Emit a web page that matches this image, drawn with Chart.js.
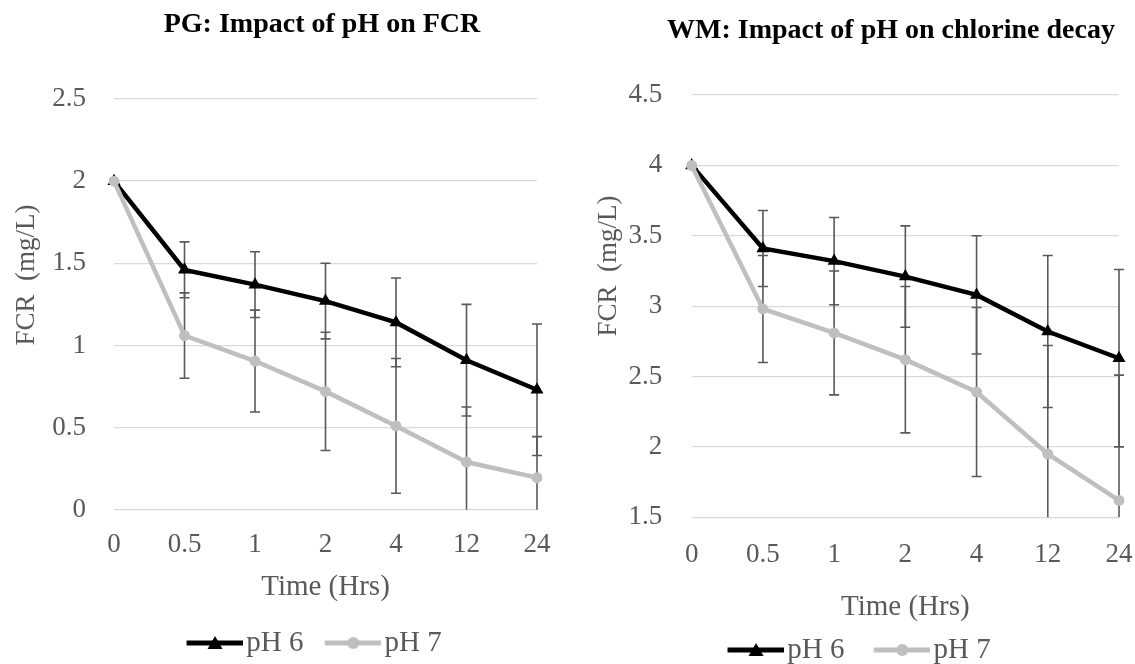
<!DOCTYPE html>
<html>
<head>
<meta charset="utf-8">
<script src="https://cdn.jsdelivr.net/npm/chart.js@4.4.1/dist/chart.umd.min.js"></script>
<style>
  body { margin: 0; background: #fff; }
  .pane { position: absolute; top: 0; }
</style>
</head>
<body>
<div class="pane" style="left:0px"><canvas id="pg" width="560" height="664"></canvas></div>
<div class="pane" style="left:575px"><canvas id="wm" width="560" height="664"></canvas></div>
<script>
const times = ["0", "0.5", "1", "2", "4", "12", "24"];

// PG panel
const pgPH6 = [2.0, 1.46, 1.37, 1.27, 1.14, 0.91, 0.73];
const pgPH6Err = [0, 0.17, 0.20, 0.23, 0.27, 0.34, 0.40];
const pgPH7 = [2.0, 1.06, 0.905, 0.72, 0.51, 0.29, 0.195];
const pgPH7Err = [0, 0.26, 0.31, 0.36, 0.41, 0.335, 0.25];

// WM panel
const wmPH6 = [4.0, 3.41, 3.32, 3.21, 3.08, 2.82, 2.63];
const wmPH6Err = [0, 0.27, 0.31, 0.36, 0.42, 0.54, 0.63];
const wmPH7 = [4.0, 2.98, 2.81, 2.62, 2.39, 1.95, 1.62];
const wmPH7Err = [0, 0.38, 0.44, 0.52, 0.60, 0.77, 0.89];

const FONT = '"Liberation Serif", "Times New Roman", serif';
const TEXT = "#595959";
Chart.defaults.font.family = FONT;

// line + marker picture for the legend; blank strip on the left keeps text close to the line
function legendSymbol(color, style, lead) {
  const c = document.createElement("canvas");
  c.width = lead + 57; c.height = 18;
  const g = c.getContext("2d");
  g.strokeStyle = color; g.lineWidth = 5;
  g.beginPath(); g.moveTo(lead, 9); g.lineTo(lead + 57, 9); g.stroke();
  g.fillStyle = color;
  const m = lead + 28.5;
  g.beginPath();
  if (style === "triangle") {
    g.moveTo(m, 2); g.lineTo(m + 7.5, 15); g.lineTo(m - 7.5, 15);
  } else {
    g.arc(m, 9, 6, 0, Math.PI * 2);
  }
  g.closePath(); g.fill();
  return c;
}

const errorBars = {
  id: "errorBars",
  beforeDatasetsDraw(chart) {
    const {ctx, chartArea} = chart;
    const y = chart.scales.y;
    ctx.save();
    ctx.beginPath();
    ctx.rect(chartArea.left - 10, chartArea.top, chartArea.right - chartArea.left + 20, chartArea.bottom - chartArea.top);
    ctx.clip();
    ctx.strokeStyle = TEXT;
    ctx.lineWidth = 1.6;
    chart.data.datasets.forEach((ds, i) => {
      const meta = chart.getDatasetMeta(i);
      ds.errors.forEach((e, j) => {
        if (!e) return;
        const x = meta.data[j].x;
        const top = y.getPixelForValue(ds.data[j] + e);
        const bot = y.getPixelForValue(ds.data[j] - e);
        ctx.beginPath();
        ctx.moveTo(x, top); ctx.lineTo(x, bot);
        ctx.moveTo(x - 5, top); ctx.lineTo(x + 5, top);
        ctx.moveTo(x - 5, bot); ctx.lineTo(x + 5, bot);
        ctx.stroke();
      });
    });
    ctx.restore();
  }
};

// chart title and rotated y title
const paneText = {
  id: "paneText",
  afterDraw(chart, args, o) {
    const ctx = chart.ctx;
    ctx.save();
    ctx.textAlign = "center";
    ctx.textBaseline = "middle";
    ctx.fillStyle = "#000";
    ctx.font = "bold 28px " + FONT;
    ctx.fillText(o.title, o.titleX, o.titleY);
    ctx.translate(o.yTitleX, o.yTitleY);
    ctx.rotate(-Math.PI / 2);
    ctx.fillStyle = TEXT;
    ctx.font = "27px " + FONT;
    ctx.fillText("FCR  (mg/L)", 0, 0);
    ctx.restore();
  }
};

// move the legend row under the pane
const legendPlace = {
  id: "legendPlace",
  afterLayout(chart, args, o) {
    const L = chart.legend;
    const dx = o.x - (L.left + L.right) / 2;
    L.left += dx; L.right += dx;
    const h = L.height;
    L.top = o.y - 10 - 14.5;
    L.bottom = L.top + h;
  }
};

function makeChart(id, ph6, ph6Err, ph7, ph7Err, cfg) {
  const boxW = cfg.legendGap + 45.5 - 10;
  const lead = boxW - 34;
  return new Chart(document.getElementById(id), {
    type: "line",
    data: {
      labels: times,
      datasets: [
        {
          label: "pH 6", data: ph6, errors: ph6Err, order: 1,
          borderColor: "#000", backgroundColor: "#000", borderWidth: 4.5,
          pointStyle: "triangle", pointRadius: 7.5, pointBorderWidth: 0,
          tension: 0
        },
        {
          label: "pH 7", data: ph7, errors: ph7Err, order: 0,
          borderColor: "#bfbfbf", backgroundColor: "#bfbfbf", borderWidth: 4.5,
          pointStyle: "circle", pointRadius: 5.5, pointBorderWidth: 0,
          tension: 0
        }
      ]
    },
    options: {
      responsive: false,
      animation: false,
      layout: { padding: cfg.padding },
      plugins: {
        tooltip: { enabled: false },
        title: { display: false },
        legend: {
          position: "bottom",
          labels: {
            color: TEXT,
            font: { size: 29 },
            usePointStyle: true,
            pointStyleWidth: boxW,
            padding: 10,
            generateLabels: (chart) => chart.data.datasets.map((ds, i) => ({
              text: ds.label,
              fontColor: TEXT,
              pointStyle: legendSymbol(ds.borderColor, ds.pointStyle, lead),
              lineWidth: 0,
              datasetIndex: i
            }))
          }
        },
        legendPlace: { x: cfg.legendX - (boxW - 45.5) / 2, y: cfg.legendY },
        paneText: cfg.text
      },
      scales: {
        x: {
          grid: { display: false, drawTicks: true, tickLength: cfg.xTickLen },
          border: { display: false },
          ticks: { color: TEXT, font: { size: 27 }, padding: 0, maxRotation: 0 },
          title: { display: true, text: "Time (Hrs)", color: TEXT, font: { size: 29 }, padding: { top: 0, bottom: cfg.xTitlePad } },
          afterFit: (s) => { s.height = cfg.xHeight; }
        },
        y: {
          min: cfg.min, max: cfg.max,
          grid: { color: "#d9d9d9", lineWidth: 1.3, drawTicks: false },
          border: { display: false },
          ticks: {
            stepSize: 0.5, color: TEXT, font: { size: 27 }, padding: cfg.yTickPad,
            callback: (v) => String(+v.toFixed(2))
          },
          afterFit: (s) => { s.width = cfg.yWidth; }
        }
      }
    },
    plugins: [errorBars, paneText, legendPlace]
  });
}

makeChart("pg", pgPH6, pgPH6Err, pgPH7, pgPH7Err, {
  min: 0, max: 2.5,
  padding: { left: 0, right: 23, top: 99, bottom: 0 },
  yWidth: 114, yTickPad: 28,
  xHeight: 105.3, xTickLen: 19, xTitlePad: 10.6,
  legendGap: 21, legendX: 314, legendY: 643,
  text: { title: "PG: Impact of pH on FCR", titleX: 322, titleY: 25, yTitleX: 27, yTitleY: 275 }
});

makeChart("wm", wmPH6, wmPH6Err, wmPH7, wmPH7Err, {
  min: 1.5, max: 4.5,
  padding: { left: 0, right: 16, top: 95, bottom: 0 },
  yWidth: 116.7, yTickPad: 29.5,
  xHeight: 97.7, xTickLen: 21.5, xTitlePad: -9.4,
  legendGap: 29, legendX: 284, legendY: 650,
  text: { title: "WM: Impact of pH on chlorine decay", titleX: 316, titleY: 31, yTitleX: 34, yTitleY: 266 }
});
</script>
</body>
</html>
